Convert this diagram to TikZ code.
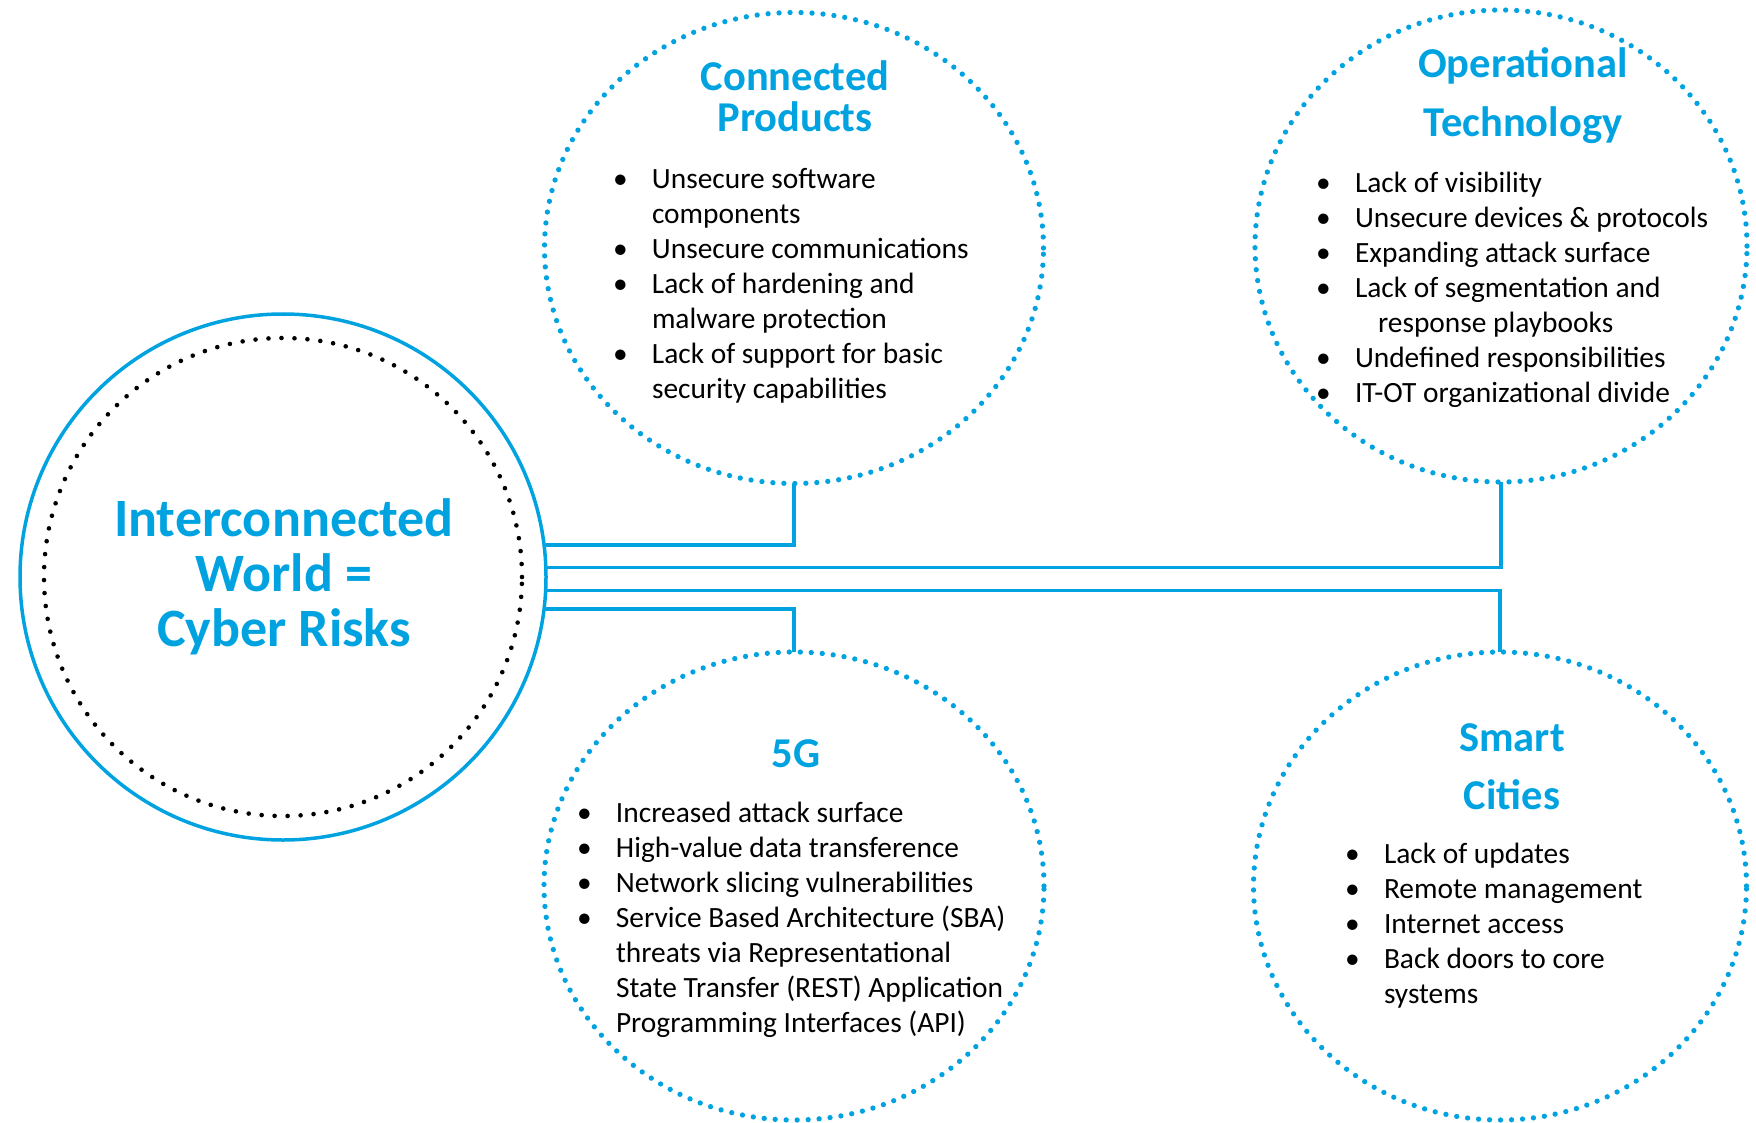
\documentclass[tikz,border=0pt]{standalone}
\usepackage{fontspec}
\setmainfont{Carlito}
\usetikzlibrary{shapes.geometric}
\definecolor{riskblue}{RGB}{0,163,224}
\newcommand{\bl}{\makebox[39pt][l]{\textbullet}}
\newcommand{\ind}{\hspace*{39pt}}

\begin{document}
\begin{tikzpicture}[x=1pt,y=-1pt]
  \tikzstyle{every node}=[inner sep=0pt, outer sep=0pt]
  \tikzstyle{area}=[draw=riskblue, ellipse, line width=5.3pt, dash pattern=on 0pt off 11pt, line cap=round]
  \tikzstyle{head}=[text=riskblue, font=\bfseries\fontsize{42.5}{41}\selectfont, align=center, anchor=base]
  \tikzstyle{items}=[font=\fontsize{29.4}{35}\selectfont, align=left, anchor=base west]
  \tikzstyle{link}=[draw=riskblue, line width=3.3pt]
  \useasboundingbox (0,0) rectangle (1756,1123);

  % hub
  \node[draw=riskblue, circle, line width=3.5pt, minimum size=526pt] (hub) at (283,577) {};
  \node[draw=black, circle, line width=4.6pt, dash pattern=on 0pt off 13pt, line cap=round, minimum size=478pt] (core) at (283,577) {};
  \node[head, font=\bfseries\fontsize{54}{55}\selectfont] (hubtitle) at (284,646) {Interconnected\\World =\\Cyber Risks};

  % the four areas
  \node[area, minimum width=499pt, minimum height=471pt] (cp) at (794,248) {};
  \node[area, minimum width=492pt, minimum height=472pt] (ot) at (1501,246) {};
  \node[area, minimum width=500pt, minimum height=468pt] (fg) at (794,886) {};
  \node[area, minimum width=493pt, minimum height=468pt] (sc) at (1500,886) {};

  \node[head] (cptitle) at (795,132) {Connected\\Products};
  \node[items] (cplist) at (613,398) {\bl Unsecure software\\ \ind components\\ \bl Unsecure communications\\ \bl Lack of hardening and\\ \ind malware protection\\ \bl Lack of support for basic\\ \ind security capabilities};

  \node[head, font=\bfseries\fontsize{42.5}{59}\selectfont] (ottitle) at (1523,137) {Operational\\Technology};
  \node[items] (otlist) at (1316,402) {\bl Lack of visibility\\ \bl Unsecure devices \& protocols\\ \bl Expanding attack surface\\ \bl Lack of segmentation and\\ \hspace*{62pt}response playbooks\\ \bl Undefined responsibilities\\ \bl IT-OT organizational divide};

  \node[head] (fgtitle) at (796,767) {5G};
  \node[items] (fglist) at (577,1032) {\bl Increased attack surface\\ \bl High-value data transference\\ \bl Network slicing vulnerabilities\\ \bl Service Based Architecture (SBA)\\ \ind threats via Representational\\ \ind State Transfer (REST) Application\\ \ind Programming Interfaces (API)};

  \node[head, font=\bfseries\fontsize{42.5}{58}\selectfont] (sctitle) at (1512,809) {Smart\\Cities};
  \node[items] (sclist) at (1345,1003) {\bl Lack of updates\\ \bl Remote management\\ \bl Internet access\\ \bl Back doors to core\\ \ind systems};

  % connectors
  \draw[link] (hub.7) -| (cp.south);
  \draw[link] (hub.2) -| (ot.south);
  \draw[link] (hub.-3) -| (sc.north);
  \draw[link] (hub.-7.3) -| (fg.north);
\end{tikzpicture}
\end{document}
